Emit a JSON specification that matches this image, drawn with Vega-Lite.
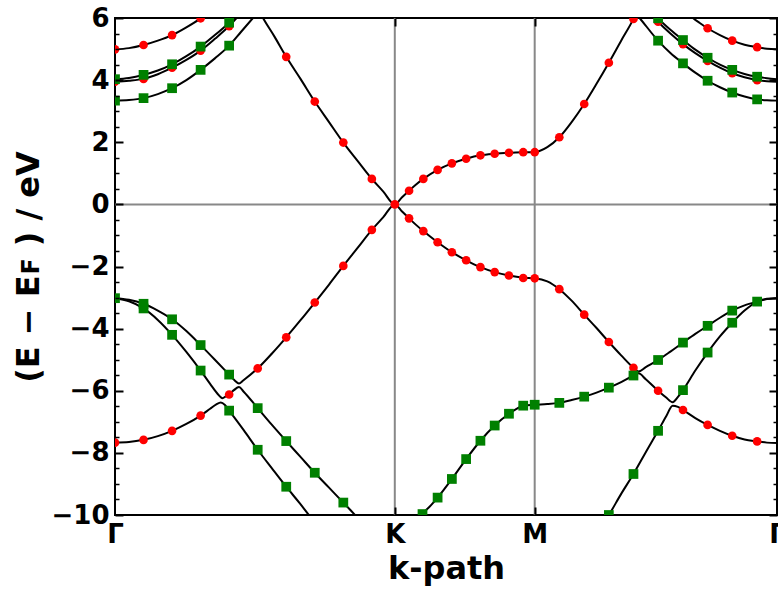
{
  "$schema": "https://vega.github.io/schema/vega-lite/v6.json",
  "width": 662,
  "height": 497,
  "autosize": {"type": "none"},
  "padding": {"left": 115, "top": 18, "right": 1, "bottom": 75},
  "background": "white",
  "config": {
    "view": {"stroke": "black", "strokeWidth": 2},
    "font": "DejaVu Sans",
    "axis": {"labelColor": "black", "tickColor": "black", "titleColor": "black", "grid": false, "domain": false, "labelFont": "DejaVu Sans", "titleFont": "DejaVu Sans"}
  },
  "datasets": {
    "lines": [
      {"band": "v1", "k": 0, "E": -3.02}, {"band": "v1", "k": 0.05, "E": -3.07}, {"band": "v1", "k": 0.102, "E": -3.2}, {"band": "v1", "k": 0.153, "E": -3.42}, {"band": "v1", "k": 0.204, "E": -3.70}, {"band": "v1", "k": 0.255, "E": -4.08}, {"band": "v1", "k": 0.306, "E": -4.53}, {"band": "v1", "k": 0.357, "E": -5.0}, {"band": "v1", "k": 0.408, "E": -5.48}, {"band": "v1", "k": 0.428, "E": -5.67}, {"band": "v1", "k": 0.443, "E": -5.77}, {"band": "v1", "k": 0.458, "E": -5.67}, {"band": "v1", "k": 0.51, "E": -5.28}, {"band": "v1", "k": 0.561, "E": -4.80}, {"band": "v1", "k": 0.612, "E": -4.28}, {"band": "v1", "k": 0.663, "E": -3.73}, {"band": "v1", "k": 0.714, "E": -3.16}, {"band": "v1", "k": 0.765, "E": -2.58}, {"band": "v1", "k": 0.816, "E": -1.98}, {"band": "v1", "k": 0.867, "E": -1.40}, {"band": "v1", "k": 0.918, "E": -0.82}, {"band": "v1", "k": 0.959, "E": -0.41}, {"band": "v1", "k": 1.0, "E": 0}, {"band": "v1", "k": 1.025, "E": -0.22}, {"band": "v1", "k": 1.051, "E": -0.45}, {"band": "v1", "k": 1.076, "E": -0.66}, {"band": "v1", "k": 1.102, "E": -0.86}, {"band": "v1", "k": 1.153, "E": -1.22}, {"band": "v1", "k": 1.204, "E": -1.54}, {"band": "v1", "k": 1.255, "E": -1.80}, {"band": "v1", "k": 1.306, "E": -2.02}, {"band": "v1", "k": 1.357, "E": -2.18}, {"band": "v1", "k": 1.408, "E": -2.29}, {"band": "v1", "k": 1.459, "E": -2.36}, {"band": "v1", "k": 1.5, "E": -2.38}, {"band": "v1", "k": 1.545, "E": -2.48}, {"band": "v1", "k": 1.588, "E": -2.73}, {"band": "v1", "k": 1.632, "E": -3.10}, {"band": "v1", "k": 1.677, "E": -3.55}, {"band": "v1", "k": 1.721, "E": -3.98}, {"band": "v1", "k": 1.765, "E": -4.43}, {"band": "v1", "k": 1.809, "E": -4.86}, {"band": "v1", "k": 1.853, "E": -5.26}, {"band": "v1", "k": 1.871, "E": -5.38}, {"band": "v1", "k": 1.897, "E": -5.24}, {"band": "v1", "k": 1.941, "E": -5.01}, {"band": "v1", "k": 1.985, "E": -4.74}, {"band": "v1", "k": 2.030, "E": -4.45}, {"band": "v1", "k": 2.074, "E": -4.17}, {"band": "v1", "k": 2.118, "E": -3.91}, {"band": "v1", "k": 2.162, "E": -3.65}, {"band": "v1", "k": 2.206, "E": -3.42}, {"band": "v1", "k": 2.25, "E": -3.25}, {"band": "v1", "k": 2.295, "E": -3.13}, {"band": "v1", "k": 2.33, "E": -3.05}, {"band": "v1", "k": 2.366, "E": -3.02},

      {"band": "v2", "k": 0, "E": -3.02}, {"band": "v2", "k": 0.05, "E": -3.12}, {"band": "v2", "k": 0.102, "E": -3.35}, {"band": "v2", "k": 0.153, "E": -3.72}, {"band": "v2", "k": 0.204, "E": -4.2}, {"band": "v2", "k": 0.255, "E": -4.75}, {"band": "v2", "k": 0.306, "E": -5.35}, {"band": "v2", "k": 0.34, "E": -5.78}, {"band": "v2", "k": 0.365, "E": -6.08}, {"band": "v2", "k": 0.384, "E": -6.24}, {"band": "v2", "k": 0.396, "E": -6.18}, {"band": "v2", "k": 0.408, "E": -6.11}, {"band": "v2", "k": 0.425, "E": -5.98}, {"band": "v2", "k": 0.443, "E": -5.88}, {"band": "v2", "k": 0.46, "E": -6.03}, {"band": "v2", "k": 0.51, "E": -6.56}, {"band": "v2", "k": 0.561, "E": -7.10}, {"band": "v2", "k": 0.612, "E": -7.62}, {"band": "v2", "k": 0.663, "E": -8.13}, {"band": "v2", "k": 0.714, "E": -8.64}, {"band": "v2", "k": 0.765, "E": -9.12}, {"band": "v2", "k": 0.816, "E": -9.6}, {"band": "v2", "k": 0.86, "E": -10.02}, {"band": "v2", "k": 0.9, "E": -10.4}, {"band": "v2", "k": 1.06, "E": -10.6}, {"band": "v2", "k": 1.099, "E": -9.97}, {"band": "v2", "k": 1.128, "E": -9.7}, {"band": "v2", "k": 1.153, "E": -9.44}, {"band": "v2", "k": 1.204, "E": -8.84}, {"band": "v2", "k": 1.255, "E": -8.20}, {"band": "v2", "k": 1.306, "E": -7.61}, {"band": "v2", "k": 1.357, "E": -7.12}, {"band": "v2", "k": 1.408, "E": -6.74}, {"band": "v2", "k": 1.435, "E": -6.58}, {"band": "v2", "k": 1.459, "E": -6.48}, {"band": "v2", "k": 1.5, "E": -6.45}, {"band": "v2", "k": 1.545, "E": -6.43}, {"band": "v2", "k": 1.588, "E": -6.39}, {"band": "v2", "k": 1.632, "E": -6.30}, {"band": "v2", "k": 1.677, "E": -6.19}, {"band": "v2", "k": 1.721, "E": -6.06}, {"band": "v2", "k": 1.765, "E": -5.90}, {"band": "v2", "k": 1.809, "E": -5.72}, {"band": "v2", "k": 1.853, "E": -5.51}, {"band": "v2", "k": 1.871, "E": -5.44}, {"band": "v2", "k": 1.897, "E": -5.63}, {"band": "v2", "k": 1.941, "E": -6.0}, {"band": "v2", "k": 1.97, "E": -6.22}, {"band": "v2", "k": 1.993, "E": -6.37}, {"band": "v2", "k": 2.012, "E": -6.2}, {"band": "v2", "k": 2.030, "E": -5.98}, {"band": "v2", "k": 2.074, "E": -5.35}, {"band": "v2", "k": 2.118, "E": -4.77}, {"band": "v2", "k": 2.162, "E": -4.25}, {"band": "v2", "k": 2.206, "E": -3.81}, {"band": "v2", "k": 2.25, "E": -3.42}, {"band": "v2", "k": 2.295, "E": -3.13}, {"band": "v2", "k": 2.33, "E": -3.04}, {"band": "v2", "k": 2.366, "E": -3.02},

      {"band": "v3", "k": 0, "E": -7.67}, {"band": "v3", "k": 0.05, "E": -7.65}, {"band": "v3", "k": 0.102, "E": -7.58}, {"band": "v3", "k": 0.153, "E": -7.46}, {"band": "v3", "k": 0.204, "E": -7.29}, {"band": "v3", "k": 0.255, "E": -7.07}, {"band": "v3", "k": 0.306, "E": -6.80}, {"band": "v3", "k": 0.34, "E": -6.58}, {"band": "v3", "k": 0.362, "E": -6.44}, {"band": "v3", "k": 0.378, "E": -6.38}, {"band": "v3", "k": 0.393, "E": -6.46}, {"band": "v3", "k": 0.408, "E": -6.64}, {"band": "v3", "k": 0.46, "E": -7.27}, {"band": "v3", "k": 0.51, "E": -7.9}, {"band": "v3", "k": 0.561, "E": -8.5}, {"band": "v3", "k": 0.612, "E": -9.09}, {"band": "v3", "k": 0.66, "E": -9.62}, {"band": "v3", "k": 0.7, "E": -10.08}, {"band": "v3", "k": 0.74, "E": -10.5}, {"band": "v3", "k": 1.72, "E": -10.6}, {"band": "v3", "k": 1.765, "E": -10.0}, {"band": "v3", "k": 1.809, "E": -9.32}, {"band": "v3", "k": 1.853, "E": -8.68}, {"band": "v3", "k": 1.897, "E": -7.98}, {"band": "v3", "k": 1.941, "E": -7.29}, {"band": "v3", "k": 1.97, "E": -6.82}, {"band": "v3", "k": 1.993, "E": -6.48}, {"band": "v3", "k": 2.012, "E": -6.52}, {"band": "v3", "k": 2.030, "E": -6.62}, {"band": "v3", "k": 2.074, "E": -6.88}, {"band": "v3", "k": 2.118, "E": -7.10}, {"band": "v3", "k": 2.162, "E": -7.29}, {"band": "v3", "k": 2.206, "E": -7.45}, {"band": "v3", "k": 2.25, "E": -7.57}, {"band": "v3", "k": 2.295, "E": -7.63}, {"band": "v3", "k": 2.33, "E": -7.67}, {"band": "v3", "k": 2.366, "E": -7.68},

      {"band": "c1", "k": 0, "E": 3.34}, {"band": "c1", "k": 0.05, "E": 3.36}, {"band": "c1", "k": 0.102, "E": 3.42}, {"band": "c1", "k": 0.153, "E": 3.55}, {"band": "c1", "k": 0.204, "E": 3.74}, {"band": "c1", "k": 0.255, "E": 4.0}, {"band": "c1", "k": 0.306, "E": 4.33}, {"band": "c1", "k": 0.357, "E": 4.70}, {"band": "c1", "k": 0.408, "E": 5.11}, {"band": "c1", "k": 0.45, "E": 5.55}, {"band": "c1", "k": 0.493, "E": 6.0}, {"band": "c1", "k": 0.515, "E": 6.23}, {"band": "c1", "k": 0.529, "E": 6.0}, {"band": "c1", "k": 0.57, "E": 5.40}, {"band": "c1", "k": 0.612, "E": 4.75}, {"band": "c1", "k": 0.663, "E": 4.04}, {"band": "c1", "k": 0.714, "E": 3.31}, {"band": "c1", "k": 0.765, "E": 2.65}, {"band": "c1", "k": 0.816, "E": 1.99}, {"band": "c1", "k": 0.867, "E": 1.40}, {"band": "c1", "k": 0.918, "E": 0.82}, {"band": "c1", "k": 0.959, "E": 0.41}, {"band": "c1", "k": 1.0, "E": 0}, {"band": "c1", "k": 1.025, "E": 0.22}, {"band": "c1", "k": 1.051, "E": 0.44}, {"band": "c1", "k": 1.076, "E": 0.64}, {"band": "c1", "k": 1.102, "E": 0.82}, {"band": "c1", "k": 1.153, "E": 1.11}, {"band": "c1", "k": 1.204, "E": 1.32}, {"band": "c1", "k": 1.255, "E": 1.47}, {"band": "c1", "k": 1.306, "E": 1.58}, {"band": "c1", "k": 1.357, "E": 1.63}, {"band": "c1", "k": 1.408, "E": 1.66}, {"band": "c1", "k": 1.459, "E": 1.68}, {"band": "c1", "k": 1.5, "E": 1.68}, {"band": "c1", "k": 1.545, "E": 1.84}, {"band": "c1", "k": 1.588, "E": 2.16}, {"band": "c1", "k": 1.632, "E": 2.65}, {"band": "c1", "k": 1.677, "E": 3.23}, {"band": "c1", "k": 1.721, "E": 3.88}, {"band": "c1", "k": 1.765, "E": 4.56}, {"band": "c1", "k": 1.809, "E": 5.27}, {"band": "c1", "k": 1.853, "E": 5.97}, {"band": "c1", "k": 1.862, "E": 6.14}, {"band": "c1", "k": 1.875, "E": 6.0}, {"band": "c1", "k": 1.941, "E": 5.27}, {"band": "c1", "k": 1.985, "E": 4.87}, {"band": "c1", "k": 2.030, "E": 4.54}, {"band": "c1", "k": 2.074, "E": 4.24}, {"band": "c1", "k": 2.118, "E": 3.98}, {"band": "c1", "k": 2.162, "E": 3.77}, {"band": "c1", "k": 2.206, "E": 3.60}, {"band": "c1", "k": 2.25, "E": 3.47}, {"band": "c1", "k": 2.295, "E": 3.38}, {"band": "c1", "k": 2.33, "E": 3.35}, {"band": "c1", "k": 2.366, "E": 3.34},

      {"band": "c2", "k": 0, "E": 4.03}, {"band": "c2", "k": 0.05, "E": 4.07}, {"band": "c2", "k": 0.102, "E": 4.17}, {"band": "c2", "k": 0.153, "E": 4.31}, {"band": "c2", "k": 0.204, "E": 4.51}, {"band": "c2", "k": 0.255, "E": 4.77}, {"band": "c2", "k": 0.306, "E": 5.08}, {"band": "c2", "k": 0.357, "E": 5.45}, {"band": "c2", "k": 0.408, "E": 5.85}, {"band": "c2", "k": 0.43, "E": 6.04}, {"band": "c2", "k": 0.46, "E": 6.3}, {"band": "c2", "k": 1.91, "E": 6.3}, {"band": "c2", "k": 1.941, "E": 5.99}, {"band": "c2", "k": 1.985, "E": 5.62}, {"band": "c2", "k": 2.030, "E": 5.29}, {"band": "c2", "k": 2.074, "E": 4.98}, {"band": "c2", "k": 2.118, "E": 4.72}, {"band": "c2", "k": 2.162, "E": 4.50}, {"band": "c2", "k": 2.206, "E": 4.33}, {"band": "c2", "k": 2.25, "E": 4.20}, {"band": "c2", "k": 2.295, "E": 4.11}, {"band": "c2", "k": 2.33, "E": 4.06}, {"band": "c2", "k": 2.366, "E": 4.03},

      {"band": "c3", "k": 0, "E": 3.95}, {"band": "c3", "k": 0.05, "E": 3.98}, {"band": "c3", "k": 0.102, "E": 4.04}, {"band": "c3", "k": 0.153, "E": 4.19}, {"band": "c3", "k": 0.204, "E": 4.40}, {"band": "c3", "k": 0.255, "E": 4.65}, {"band": "c3", "k": 0.306, "E": 4.95}, {"band": "c3", "k": 0.357, "E": 5.33}, {"band": "c3", "k": 0.408, "E": 5.74}, {"band": "c3", "k": 0.44, "E": 6.05}, {"band": "c3", "k": 0.47, "E": 6.3}, {"band": "c3", "k": 1.9, "E": 6.3}, {"band": "c3", "k": 1.941, "E": 5.88}, {"band": "c3", "k": 1.985, "E": 5.50}, {"band": "c3", "k": 2.030, "E": 5.16}, {"band": "c3", "k": 2.074, "E": 4.87}, {"band": "c3", "k": 2.118, "E": 4.62}, {"band": "c3", "k": 2.162, "E": 4.40}, {"band": "c3", "k": 2.206, "E": 4.22}, {"band": "c3", "k": 2.25, "E": 4.09}, {"band": "c3", "k": 2.295, "E": 4.00}, {"band": "c3", "k": 2.33, "E": 3.96}, {"band": "c3", "k": 2.366, "E": 3.95},

      {"band": "c4", "k": 0, "E": 4.99}, {"band": "c4", "k": 0.05, "E": 5.03}, {"band": "c4", "k": 0.102, "E": 5.13}, {"band": "c4", "k": 0.153, "E": 5.27}, {"band": "c4", "k": 0.204, "E": 5.45}, {"band": "c4", "k": 0.255, "E": 5.70}, {"band": "c4", "k": 0.306, "E": 5.99}, {"band": "c4", "k": 0.35, "E": 6.3}, {"band": "c4", "k": 2.04, "E": 6.3}, {"band": "c4", "k": 2.066, "E": 6.0}, {"band": "c4", "k": 2.09, "E": 5.84}, {"band": "c4", "k": 2.118, "E": 5.67}, {"band": "c4", "k": 2.162, "E": 5.45}, {"band": "c4", "k": 2.206, "E": 5.27}, {"band": "c4", "k": 2.25, "E": 5.14}, {"band": "c4", "k": 2.295, "E": 5.06}, {"band": "c4", "k": 2.33, "E": 5.01}, {"band": "c4", "k": 2.366, "E": 4.99}
    ],
    "red": [
      {"k": 0, "E": -7.67}, {"k": 0.102, "E": -7.58}, {"k": 0.204, "E": -7.29}, {"k": 0.306, "E": -6.80}, {"k": 0.408, "E": -6.12}, {"k": 0.51, "E": -5.28}, {"k": 0.612, "E": -4.28}, {"k": 0.714, "E": -3.16}, {"k": 0.816, "E": -1.98}, {"k": 0.918, "E": -0.82}, {"k": 1.0, "E": 0},
      {"k": 0.612, "E": 4.75}, {"k": 0.714, "E": 3.31}, {"k": 0.816, "E": 1.99}, {"k": 0.918, "E": 0.82},
      {"k": 1.051, "E": 0.44}, {"k": 1.102, "E": 0.82}, {"k": 1.153, "E": 1.11}, {"k": 1.204, "E": 1.32}, {"k": 1.255, "E": 1.47}, {"k": 1.306, "E": 1.58}, {"k": 1.357, "E": 1.63}, {"k": 1.408, "E": 1.66}, {"k": 1.459, "E": 1.68}, {"k": 1.5, "E": 1.68},
      {"k": 1.051, "E": -0.45}, {"k": 1.102, "E": -0.86}, {"k": 1.153, "E": -1.22}, {"k": 1.204, "E": -1.54}, {"k": 1.255, "E": -1.80}, {"k": 1.306, "E": -2.02}, {"k": 1.357, "E": -2.18}, {"k": 1.408, "E": -2.29}, {"k": 1.459, "E": -2.37}, {"k": 1.5, "E": -2.38},
      {"k": 1.588, "E": 2.16}, {"k": 1.677, "E": 3.23}, {"k": 1.765, "E": 4.56}, {"k": 1.853, "E": 5.97},
      {"k": 1.588, "E": -2.73}, {"k": 1.677, "E": -3.55}, {"k": 1.765, "E": -4.43}, {"k": 1.853, "E": -5.26}, {"k": 1.941, "E": -6.0}, {"k": 2.030, "E": -6.62}, {"k": 2.118, "E": -7.10}, {"k": 2.206, "E": -7.45}, {"k": 2.295, "E": -7.63},
      {"k": 0, "E": 4.99}, {"k": 0.102, "E": 5.13}, {"k": 0.204, "E": 5.45}, {"k": 0.306, "E": 5.99},
      {"k": 0, "E": 3.95}, {"k": 0.102, "E": 4.04}, {"k": 0.204, "E": 4.40}, {"k": 0.306, "E": 4.95}, {"k": 0.408, "E": 5.74},
      {"k": 2.118, "E": 5.67}, {"k": 2.206, "E": 5.27}, {"k": 2.295, "E": 5.06},
      {"k": 1.941, "E": 5.88}, {"k": 2.030, "E": 5.16}, {"k": 2.118, "E": 4.62}, {"k": 2.206, "E": 4.22}, {"k": 2.295, "E": 4.00}
    ],
    "green": [
      {"k": 0, "E": -3.02}, {"k": 0.102, "E": -3.2}, {"k": 0.204, "E": -3.70}, {"k": 0.306, "E": -4.53}, {"k": 0.408, "E": -5.48}, {"k": 0.51, "E": -6.56}, {"k": 0.612, "E": -7.62}, {"k": 0.714, "E": -8.64}, {"k": 0.816, "E": -9.6},
      {"k": 0.102, "E": -3.35}, {"k": 0.204, "E": -4.2}, {"k": 0.306, "E": -5.35}, {"k": 0.408, "E": -6.64}, {"k": 0.51, "E": -7.9}, {"k": 0.612, "E": -9.09},
      {"k": 1.099, "E": -9.97}, {"k": 1.153, "E": -9.44}, {"k": 1.204, "E": -8.84}, {"k": 1.255, "E": -8.20}, {"k": 1.306, "E": -7.61}, {"k": 1.357, "E": -7.12}, {"k": 1.408, "E": -6.74}, {"k": 1.459, "E": -6.48}, {"k": 1.5, "E": -6.45},
      {"k": 1.588, "E": -6.39}, {"k": 1.677, "E": -6.19}, {"k": 1.765, "E": -5.90}, {"k": 1.853, "E": -5.51}, {"k": 1.941, "E": -5.01}, {"k": 2.030, "E": -4.45}, {"k": 2.118, "E": -3.91}, {"k": 2.206, "E": -3.42}, {"k": 2.295, "E": -3.13},
      {"k": 1.765, "E": -10.0}, {"k": 1.853, "E": -8.68}, {"k": 1.941, "E": -7.29}, {"k": 2.030, "E": -5.98}, {"k": 2.118, "E": -4.77}, {"k": 2.206, "E": -3.81},
      {"k": 0, "E": 4.03}, {"k": 0.102, "E": 4.17}, {"k": 0.204, "E": 4.51}, {"k": 0.306, "E": 5.08}, {"k": 0.408, "E": 5.85},
      {"k": 0, "E": 3.34}, {"k": 0.102, "E": 3.42}, {"k": 0.204, "E": 3.74}, {"k": 0.306, "E": 4.33}, {"k": 0.408, "E": 5.11},
      {"k": 1.941, "E": 5.27}, {"k": 2.030, "E": 4.54}, {"k": 2.118, "E": 3.98}, {"k": 2.206, "E": 3.60}, {"k": 2.295, "E": 3.38},
      {"k": 1.941, "E": 5.99}, {"k": 2.030, "E": 5.29}, {"k": 2.118, "E": 4.72}, {"k": 2.206, "E": 4.33}, {"k": 2.295, "E": 4.11}
    ]
  },
  "resolve": {"axis": {"x": "independent", "y": "independent"}},
  "layer": [
    {
      "data": {"values": [{"k": 1}, {"k": 1.5}]},
      "mark": {"type": "rule", "color": "#888888", "strokeWidth": 2},
      "encoding": {
        "x": {"field": "k", "type": "quantitative", "scale": {"domain": [0, 2.366], "nice": false, "zero": false}, "axis": null}
      }
    },
    {
      "data": {"values": [{"E": 0}]},
      "mark": {"type": "rule", "color": "#888888", "strokeWidth": 2},
      "encoding": {
        "y": {"field": "E", "type": "quantitative", "scale": {"domain": [-10, 6], "nice": false, "zero": false}, "axis": null}
      }
    },
    {
      "data": {"name": "lines"},
      "mark": {"type": "line", "color": "black", "strokeWidth": 2, "clip": true, "interpolate": "monotone"},
      "encoding": {
        "x": {"field": "k", "type": "quantitative", "scale": {"domain": [0, 2.366], "nice": false, "zero": false},
          "axis": {"orient": "bottom", "values": [0, 1, 1.5, 2.366], "labelExpr": "datum.value == 1 ? 'K' : (datum.value == 1.5 ? 'M' : 'Γ')", "ticks": false, "labelFontSize": 26, "labelFontWeight": "bold", "labelPadding": 6, "labelFlush": false, "labelOverlap": false, "title": "k-path", "titleFontSize": 32, "titleFontWeight": "bold", "titlePadding": 6}},
        "y": {"field": "E", "type": "quantitative", "scale": {"domain": [-10, 6], "nice": false, "zero": false},
          "axis": {"orient": "left", "values": [-10, -8, -6, -4, -2, 0, 2, 4, 6], "labelExpr": "datum.value < 0 ? '−' + abs(datum.value) : '' + datum.value", "ticks": false, "labelFontSize": 26, "labelFontWeight": "bold", "labelPadding": 6, "labelFlush": false, "labelOverlap": false, "title": "(E − Eꜰ ) / eV", "titleFontSize": 32, "titleFontWeight": "bold", "titlePadding": 6}},
        "detail": {"field": "band"}
      }
    },
    {
      "data": {"name": "red"},
      "mark": {"type": "circle", "color": "#ff0000", "opacity": 1, "size": 75, "clip": true},
      "encoding": {
        "x": {"field": "k", "type": "quantitative", "scale": {"domain": [0, 2.366], "nice": false, "zero": false},
          "axis": {"orient": "bottom", "values": [1, 1.5], "labels": false, "tickSize": -8, "tickWidth": 2, "title": null, "zindex": 2}},
        "y": {"field": "E", "type": "quantitative", "scale": {"domain": [-10, 6], "nice": false, "zero": false},
          "axis": {"orient": "left", "values": [-10, -9.5, -9, -8.5, -8, -7.5, -7, -6.5, -6, -5.5, -5, -4.5, -4, -3.5, -3, -2.5, -2, -1.5, -1, -0.5, 0, 0.5, 1, 1.5, 2, 2.5, 3, 3.5, 4, 4.5, 5, 5.5, 6], "labels": false, "tickSize": {"condition": {"test": "datum.value % 2 === 0", "value": -8}, "value": -4}, "tickWidth": {"condition": {"test": "datum.value % 2 === 0", "value": 2}, "value": 1.5}, "title": null, "zindex": 2}}
      }
    },
    {
      "data": {"name": "green"},
      "mark": {"type": "square", "color": "#008000", "opacity": 1, "size": 95, "clip": true},
      "encoding": {
        "x": {"field": "k", "type": "quantitative", "scale": {"domain": [0, 2.366], "nice": false, "zero": false},
          "axis": {"orient": "top", "values": [1, 1.5], "labels": false, "tickSize": -8, "tickWidth": 2, "title": null, "zindex": 2}},
        "y": {"field": "E", "type": "quantitative", "scale": {"domain": [-10, 6], "nice": false, "zero": false},
          "axis": {"orient": "right", "values": [-10, -9.5, -9, -8.5, -8, -7.5, -7, -6.5, -6, -5.5, -5, -4.5, -4, -3.5, -3, -2.5, -2, -1.5, -1, -0.5, 0, 0.5, 1, 1.5, 2, 2.5, 3, 3.5, 4, 4.5, 5, 5.5, 6], "labels": false, "tickSize": {"condition": {"test": "datum.value % 2 === 0", "value": -8}, "value": -4}, "tickWidth": {"condition": {"test": "datum.value % 2 === 0", "value": 2}, "value": 1.5}, "title": null, "zindex": 2}}
      }
    }
  ]
}
